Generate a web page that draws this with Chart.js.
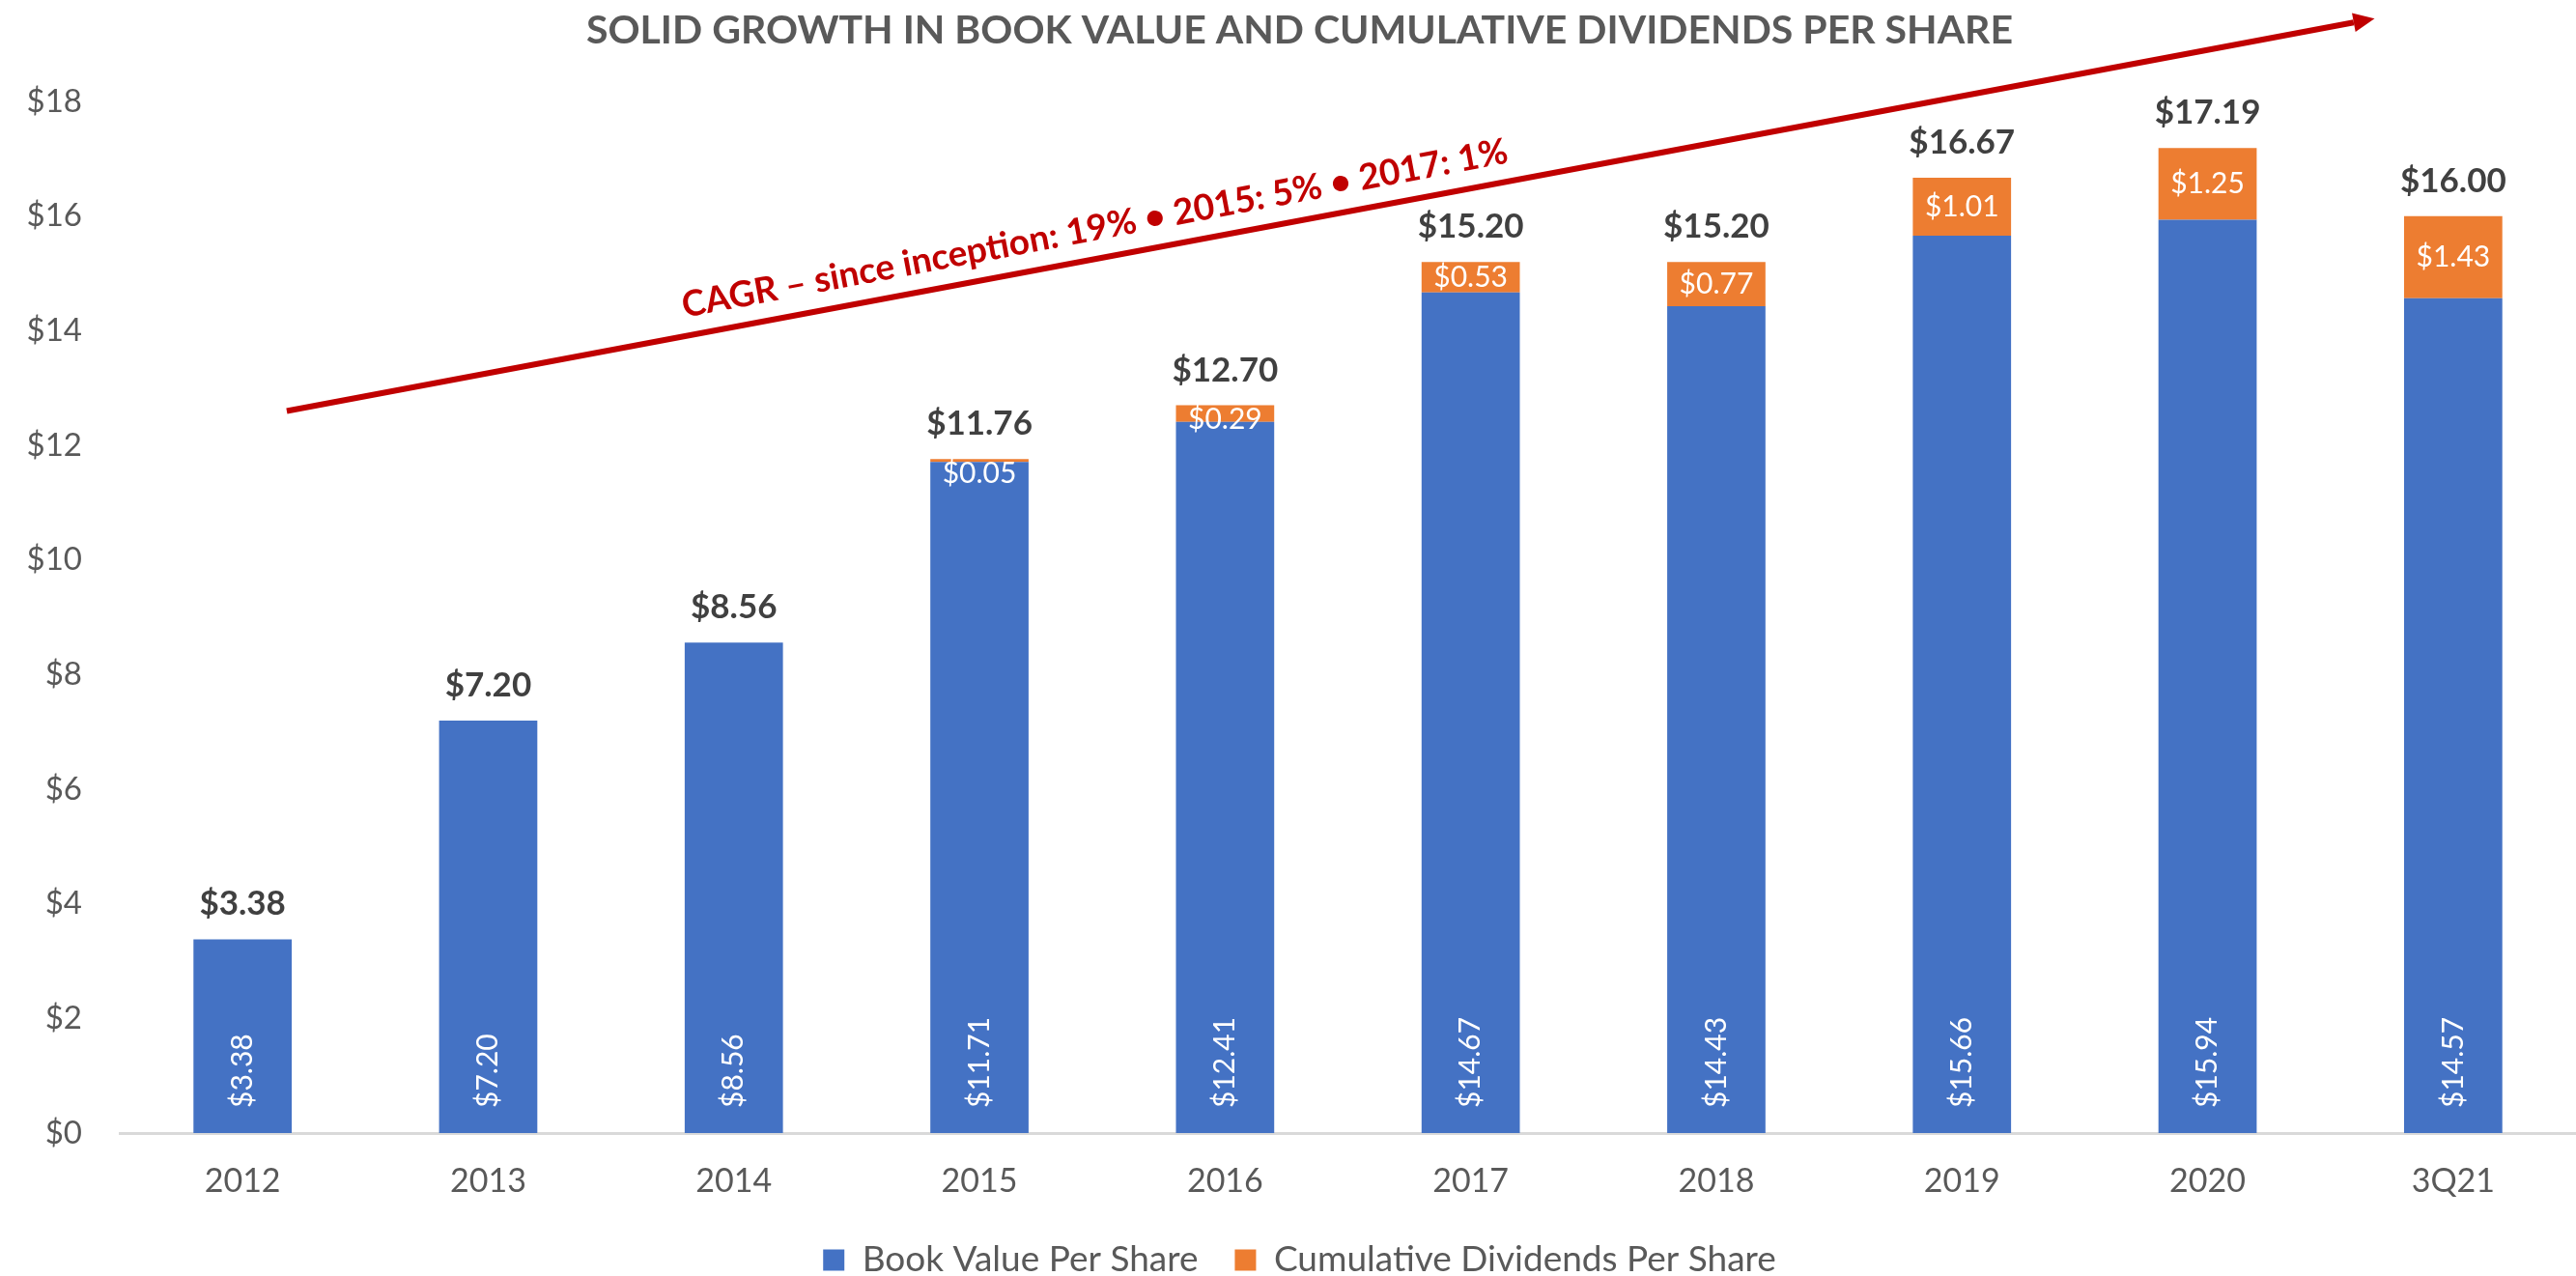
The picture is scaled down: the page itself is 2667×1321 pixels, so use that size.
<!DOCTYPE html>
<html>
<head>
<meta charset="utf-8">
<script src="https://cdn.jsdelivr.net/npm/chart.js@4.4.1/dist/chart.umd.min.js"></script>
<style>
  html, body { margin: 0; padding: 0; background: #fff; }
  #wrap { width: 2667px; height: 1321px; position: relative; }
</style>
</head>
<body>
<div id="wrap"><canvas id="chart"></canvas></div>
<script>
  // chart data
  var years = ['2012', '2013', '2014', '2015', '2016', '2017', '2018', '2019', '2020', '3Q21'];
  var bookValue = [3.38, 7.20, 8.56, 11.71, 12.41, 14.67, 14.43, 15.66, 15.94, 14.57];
  var dividends = [null, null, null, 0.05, 0.29, 0.53, 0.77, 1.01, 1.25, 1.43];
  var yTicks = [0, 2, 4, 6, 8, 10, 12, 14, 16, 18];
  var cagrText = 'CAGR \u2013 since inception: 19% \u2022 2015: 5% \u2022 2017: 1%';

  var blue = '#4472C4';
  var orange = '#ED7D31';
  var gray = '#595959';

  function money(v) {
      return '$' + v.toFixed(2);
  }

  // arrow ends, given as (category index, value)
  var arrowFrom = [0.18, 12.6];
  var arrowTo = [8.68, 19.45];

  var labelPlugin = {
      id: 'barLabels',
      afterDatasetsDraw: function(chart) {
          var ctx = chart.ctx;
          var xs = chart.scales.x, ys = chart.scales.y;
          var bookMeta = chart.getDatasetMeta(0);
          var divMeta = chart.getDatasetMeta(1);
          ctx.save();

          // book value, rotated, at the base of each bar
          ctx.fillStyle = '#ffffff';
          ctx.font = '30px Lato';
          bookMeta.data.forEach(function(bar, i) {
              ctx.save();
              ctx.translate(bar.x, bar.base - 26);
              ctx.rotate(-Math.PI / 2);
              ctx.textAlign = 'left';
              ctx.textBaseline = 'middle';
              ctx.fillText(money(bookValue[i]), 0, 0);
              ctx.restore();
          });

          // dividends, centred in the orange piece
          ctx.textAlign = 'center';
          ctx.textBaseline = 'middle';
          divMeta.data.forEach(function(bar, i) {
              if (dividends[i] == null) return;
              var y = Math.max((bar.y + bar.base) / 2, bar.y + 15);
              ctx.fillText(money(dividends[i]), bar.x, y);
          });

          // totals above the stack
          ctx.fillStyle = '#404040';
          ctx.font = 'bold 35px Lato';
          ctx.textBaseline = 'alphabetic';
          bookMeta.data.forEach(function(bar, i) {
              var total = bookValue[i] + (dividends[i] || 0);
              var top = dividends[i] == null ? bar.y : divMeta.data[i].y;
              ctx.fillText(money(total), bar.x, top - 25);
          });

          // CAGR arrow
          var x0 = xs.getPixelForValue(arrowFrom[0]), y0 = ys.getPixelForValue(arrowFrom[1]);
          var x1 = xs.getPixelForValue(arrowTo[0]), y1 = ys.getPixelForValue(arrowTo[1]);
          var a = Math.atan2(y1 - y0, x1 - x0);
          var head = 22;
          ctx.strokeStyle = '#C00000';
          ctx.fillStyle = '#C00000';
          ctx.lineWidth = 6;
          ctx.beginPath();
          ctx.moveTo(x0, y0);
          ctx.lineTo(x1 - head * Math.cos(a), y1 - head * Math.sin(a));
          ctx.stroke();
          ctx.save();
          ctx.translate(x1, y1);
          ctx.rotate(a);
          ctx.beginPath();
          ctx.moveTo(0, 0);
          ctx.lineTo(-head, -10);
          ctx.lineTo(-head, 10);
          ctx.closePath();
          ctx.fill();
          ctx.restore();

          var t = 0.192;
          var tx = x0 + t * (x1 - x0) + 19 * Math.sin(a);
          var ty = y0 + t * (y1 - y0) - 19 * Math.cos(a);
          ctx.save();
          ctx.translate(tx, ty);
          ctx.rotate(a);
          ctx.font = 'bold 37px Lato';
          ctx.textAlign = 'left';
          ctx.textBaseline = 'alphabetic';
          ctx.fillText(cagrText, 0, 0);
          ctx.restore();

          ctx.restore();
      }
  };

  var ctx = document.getElementById('chart').getContext('2d');
  window.bookChart = new Chart(ctx, {
      type: 'bar',
      data: {
          labels: years,
          datasets: [
              {
                  label: 'Book Value Per Share',
                  data: bookValue,
                  backgroundColor: blue,
                  borderWidth: 0
              },
              {
                  label: 'Cumulative Dividends Per Share',
                  data: dividends,
                  backgroundColor: orange,
                  borderWidth: 0
              }
          ]
      },
      options: {
          responsive: true,
          maintainAspectRatio: false,
          animation: false,
          layout: {
              padding: { left: 24, right: 0, top: 0, bottom: -12 }
          },
          datasets: {
              bar: { categoryPercentage: 1, barPercentage: 0.4 }
          },
          scales: {
              x: {
                  stacked: true,
                  grid: { display: false, drawTicks: false },
                  border: { display: true, color: '#D9D9D9', width: 3 },
                  ticks: {
                      color: gray,
                      font: { family: 'Lato', size: 34 },
                      padding: 30,
                      maxRotation: 0
                  },
                  afterFit: function(s) { s.height = 75; }
              },
              y: {
                  stacked: true,
                  min: yTicks[0],
                  max: yTicks[yTicks.length - 1],
                  grid: { display: false, drawTicks: false },
                  border: { display: false },
                  afterBuildTicks: function(s) {
                      s.ticks = yTicks.map(function(v) { return { value: v }; });
                  },
                  ticks: {
                      color: gray,
                      font: { family: 'Lato', size: 33 },
                      padding: 39,
                      callback: function(v) { return '$' + v; }
                  },
                  afterFit: function(s) { s.width = 100; }
              }
          },
          plugins: {
              title: {
                  display: true,
                  text: 'SOLID GROWTH IN BOOK VALUE AND CUMULATIVE DIVIDENDS PER SHARE',
                  color: gray,
                  font: { family: 'Lato', size: 41, weight: 'bold' },
                  padding: { top: 7, bottom: 49 }
              },
              legend: {
                  position: 'bottom',
                  labels: {
                      color: gray,
                      font: { family: 'Lato', size: 37 },
                      boxWidth: 22,
                      boxHeight: 22,
                      padding: 38
                  }
              },
              tooltip: { enabled: false }
          }
      },
      plugins: [labelPlugin]
  });
</script>
</body>
</html>
